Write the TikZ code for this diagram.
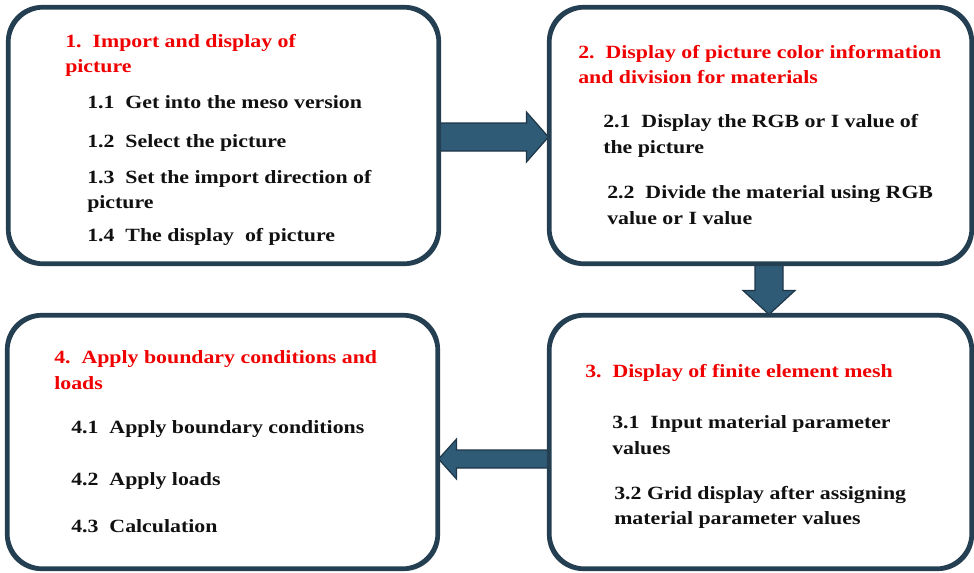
\documentclass[tikz,border=0pt]{standalone}
\usepackage{fontspec}
\setmainfont[FakeStretch=1.17]{Liberation Serif}
\usetikzlibrary{calc}

\definecolor{boxline}{HTML}{243F52}
\definecolor{arrfill}{HTML}{2F5B77}
\definecolor{arrline}{HTML}{1E3647}
\definecolor{headred}{HTML}{F00000}
\definecolor{bodyblack}{HTML}{111111}

\tikzset{
  stagebox/.style={draw=boxline, line width=2.3pt, rounded corners=26pt,
                   fill=white, inner sep=0pt},
  outline/.style={draw=boxline, line width=2.3pt, rounded corners=26pt},
  blockarrow/.style={fill=arrfill, draw=arrline, line width=0.9pt, line join=miter},
  headtext/.style={anchor=base west, inner sep=0pt, text=headred,
                   font=\fontsize{14}{19.5}\selectfont\bfseries},
  itemtext/.style={anchor=base west, inner sep=0pt, text=bodyblack,
                   font=\fontsize{14}{19.5}\selectfont\bfseries},
}

\begin{document}
\begin{tikzpicture}[x=0.75pt, y=-0.75pt]
\useasboundingbox (0,0) rectangle (974,572);

% the four stage boxes
\node[stagebox, minimum width=321.75pt, minimum height=191.25pt] (b1) at (223.5,135.5) {};
\node[stagebox, minimum width=315.75pt, minimum height=191.25pt] (b2) at (760.5,135.5) {};
\node[stagebox, minimum width=315.75pt, minimum height=189pt]    (b3) at (760.5,442) {};
\node[stagebox, minimum width=321.75pt, minimum height=189pt]    (b4) at (222.5,442) {};

% block arrows between the stages
\path ($(b1.east)+(0,1.5)$) coordinate (a1s)
      ($(b2.west)+(0,1.5)$) coordinate (a1e);
\draw[blockarrow] ($(a1s)+(0,-14)$) -- ($(a1e)+(-22,-14)$) -- ($(a1e)+(-22,-25)$)
  -- (a1e) -- ($(a1e)+(-22,25)$) -- ($(a1e)+(-22,14)$) -- ($(a1s)+(0,14)$) -- cycle;

\path ($(b2.south)+(8.5,0)$) coordinate (a2s)
      ($(b3.north)+(8.5,0)$) coordinate (a2e);
\draw[blockarrow] ($(a2s)+(-14,0)$) -- ($(a2e)+(-14,-24)$) -- ($(a2e)+(-26,-24)$)
  -- (a2e) -- ($(a2e)+(26,-24)$) -- ($(a2e)+(14,-24)$) -- ($(a2s)+(14,0)$) -- cycle;

\path ($(b3.west)+(0,17)$) coordinate (a3s)
      ($(b4.east)+(0,17)$) coordinate (a3e);
\draw[blockarrow] ($(a3s)+(0,-9)$) -- ($(a3e)+(18,-9)$) -- ($(a3e)+(18,-20)$)
  -- (a3e) -- ($(a3e)+(18,20)$) -- ($(a3e)+(18,9)$) -- ($(a3s)+(0,9)$) -- cycle;

% box outlines drawn again over the arrow ends
\draw[outline] (b1.south west) rectangle (b1.north east);
\draw[outline] (b2.south west) rectangle (b2.north east);
\draw[outline] (b3.south west) rectangle (b3.north east);
\draw[outline] (b4.south west) rectangle (b4.north east);

% stage 1
\node[headtext] (h1a) at (65,47) {1.\ \ Import and display of};
\node[headtext] (h1b) at (65,72) {picture};
\node[itemtext] (t11) at (87,108) {1.1\ \ Get into the meso version};
\node[itemtext] (t12) at (87,147) {1.2\ \ Select the picture};
\node[itemtext] (t13a) at (87,183) {1.3\ \ Set the import direction of};
\node[itemtext] (t13b) at (87,208) {picture};
\node[itemtext] (t14) at (87,241) {1.4\ \ The display\ \ of picture};

% stage 2
\node[headtext] (h2a) at (578,58) {2.\ \ Display of picture color information};
\node[headtext] (h2b) at (578,83) {and division for materials};
\node[itemtext] (t21a) at (603,127) {2.1\ \ Display the RGB or I value of};
\node[itemtext] (t21b) at (603,153) {the picture};
\node[itemtext] (t22a) at (607,198) {2.2\ \ Divide the material using RGB};
\node[itemtext] (t22b) at (607,224) {value or I value};

% stage 3
\node[headtext] (h3) at (585,377) {3.\ \ Display of finite element mesh};
\node[itemtext] (t31a) at (612,428) {3.1\ \ Input material parameter};
\node[itemtext] (t31b) at (612,454) {values};
\node[itemtext] (t32a) at (614,499) {3.2 Grid display after assigning};
\node[itemtext] (t32b) at (614,524) {material parameter values};

% stage 4
\node[headtext] (h4a) at (54,363) {4.\ \ Apply boundary conditions and};
\node[headtext] (h4b) at (54,389) {loads};
\node[itemtext] (t41) at (71,433) {4.1\ \ Apply boundary conditions};
\node[itemtext] (t42) at (71,485) {4.2\ \ Apply loads};
\node[itemtext] (t43) at (71,532) {4.3\ \ Calculation};
\end{tikzpicture}
\end{document}
